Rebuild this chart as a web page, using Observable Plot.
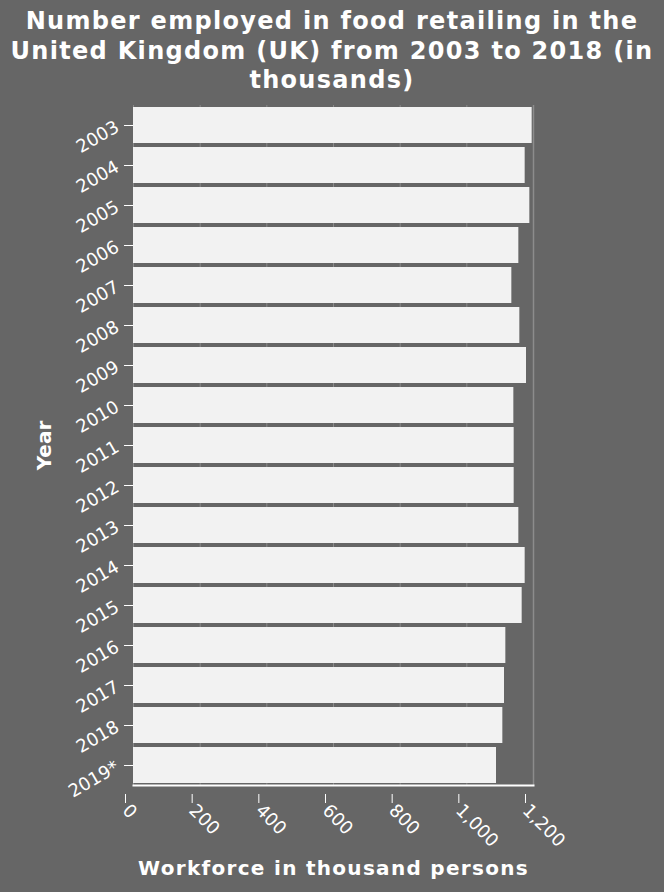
<!DOCTYPE html>
<html><head><meta charset="utf-8">
<script src="https://cdn.jsdelivr.net/npm/d3@7"></script>
<script src="https://cdn.jsdelivr.net/npm/@observablehq/plot@0.6"></script>
<style>
html,body{margin:0;padding:0;background:#666666;}
body{width:664px;height:892px;overflow:hidden;font-family:"DejaVu Sans",sans-serif;}
#title{height:100px;box-sizing:border-box;padding-top:7px;color:#fff;font-weight:bold;font-size:24px;line-height:29.5px;letter-spacing:1.3px;text-align:center;}
#chart svg{display:block;}
.xlab text{letter-spacing:1.3px;}
</style></head><body>
<div id="title">Number employed in food retailing in the<br>United Kingdom (UK) from 2003 to 2018 (in<br>thousands)</div>
<div id="chart"></div>
<script>
const years = ["2003","2004","2005","2006","2007","2008","2009","2010","2011","2012","2013","2014","2015","2016","2017","2018","2019*"];
const workforce = [1196,1175,1189,1156,1135,1159,1179,1141,1142,1142,1156,1175,1166,1117,1113,1108,1089];
const xTicks = [0,200,400,600,800,1000,1200];
const xLabel = "Workforce in thousand persons";
const yLabel = "Year";

const data = years.map((y,i)=>({year:y, value:workforce[i]}));

const chart = Plot.plot({
  width:664, height:792,
  marginLeft:133, marginRight:131, marginTop:5, marginBottom:107,
  style:{background:"transparent", color:"#fff", fontFamily:"DejaVu Sans, sans-serif", fontSize:"18px"},
  x:{domain:[0,1200], label:null},
  y:{domain:years, paddingInner:0.1, paddingOuter:0.05, label:null},
  marks:[
    Plot.gridX(xTicks, {stroke:"#8a8a8a", strokeOpacity:1}),
    Plot.barX(data, {y:"year", x:"value", fill:"#f2f2f2"}),
    Plot.ruleX([1200], {stroke:"#8c8c8c", strokeWidth:1.5}),
    Plot.axisY({tickRotate:-30, tickSize:9, tickPadding:7, label:null, stroke:"#fff", fontSize:18}),
    Plot.axisX({ticks:xTicks, tickFormat:d3.format(","), tickRotate:45, tickSize:9, tickPadding:4, dx:-8, dy:9, label:null, stroke:"#fff", fontSize:18}),
    Plot.frame({anchor:"bottom", stroke:"#fff", strokeWidth:2}),
    Plot.text([yLabel], {frameAnchor:"left", dx:-89, rotate:-90, textAnchor:"middle", lineAnchor:"middle", fontWeight:"bold", fontSize:20, fill:"#fff"}),
    Plot.text([xLabel], {frameAnchor:"bottom", dy:83, textAnchor:"middle", lineAnchor:"middle", fontWeight:"bold", fontSize:20, fill:"#fff", className:"xlab"})
  ]
});
document.getElementById("chart").appendChild(chart);
</script>
</body></html>
